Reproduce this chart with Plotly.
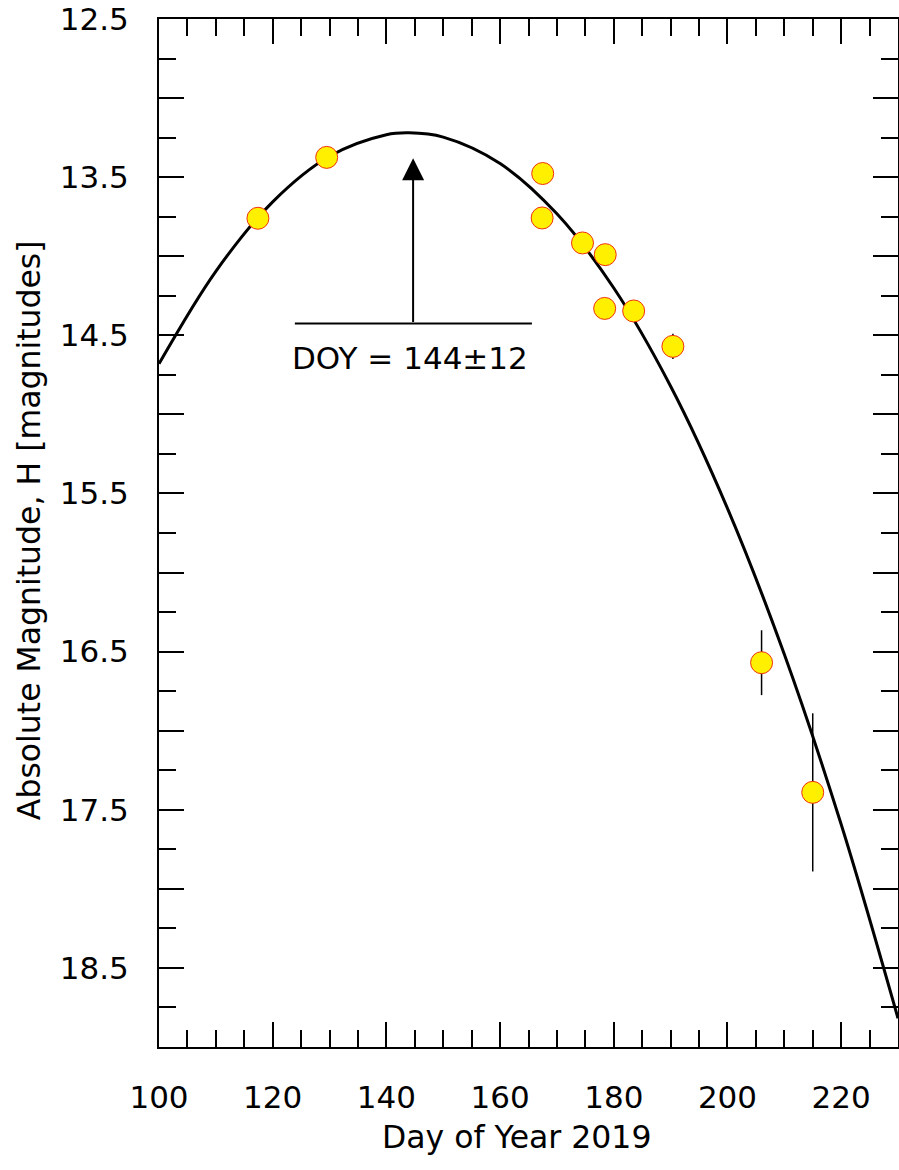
import plotly.graph_objects as go

# Observations: day of year, absolute magnitude H, 1-sigma error
doy = [117.4, 129.5, 167.5, 167.4, 174.5, 178.5, 178.4, 183.5, 190.4, 206.0, 215.0]
mag = [13.76, 13.375, 13.477, 13.758, 13.916, 13.99, 14.33, 14.346, 14.57, 16.57, 17.39]
err = [0.03, 0.03, 0.03, 0.03, 0.03, 0.03, 0.03, 0.03, 0.08, 0.205, 0.5]

# Fitted curve
curve_doy = [100, 110, 120, 130, 140, 144, 150, 160, 170, 180, 190, 200, 210, 220, 230]
curve_mag = [14.68, 14.095, 13.656, 13.368, 13.232, 13.22, 13.247, 13.414, 13.732,
             14.201, 14.822, 15.594, 16.517, 17.592, 18.819]

# Texts
peak_label = "DOY = 144±12"
x_title = "Day of Year 2019"
y_title = "Absolute Magnitude, H [magnitudes]"

x_ticks = [100, 120, 140, 160, 180, 200, 220]
y_tickvals = [12.5, 13.0, 13.5, 14.0, 14.5, 15.0, 15.5, 16.0, 16.5, 17.0, 17.5, 18.0, 18.5]
y_ticktext = ["12.5", "", "13.5", "", "14.5", "", "15.5", "", "16.5", "", "17.5", "", "18.5"]
y_minor = [12.75, 13.25, 13.75, 14.25, 14.75, 15.25, 15.75, 16.25, 16.75, 17.25, 17.75, 18.25, 18.75]

FONT = "DejaVu Sans"

fig = go.Figure()
fig.add_trace(go.Scatter(
    x=curve_doy, y=curve_mag, mode="lines", line=dict(color="black", width=3, shape="spline"),
    hoverinfo="skip", showlegend=False))
fig.add_trace(go.Scatter(
    x=doy, y=mag, mode="markers",
    error_y=dict(type="data", array=err, visible=True, color="black", thickness=1.5, width=0),
    marker=dict(size=22, color="#FFF000", line=dict(color="#F03010", width=1)),
    showlegend=False))

# Horizontal bar and arrow
fig.add_shape(type="line", x0=123.9, x1=165.6, y0=14.426, y1=14.426, xref="x", yref="y",
              line=dict(color="black", width=2))
fig.add_annotation(x=144.7, y=13.38, ax=144.7, ay=14.426, xref="x", yref="y", axref="x", ayref="y",
                   text="", showarrow=True, arrowhead=2, arrowwidth=2, arrowsize=2.2, arrowcolor="black")
fig.add_annotation(x=144.2, y=14.646, xref="x", yref="y", text=peak_label, showarrow=False,
                   font=dict(family=FONT, size=31, color="black"))

# Axis titles
fig.add_annotation(x=0.4838, y=-0.0879, xref="paper", yref="paper", text=x_title, showarrow=False,
                   xanchor="center", yanchor="middle",
                   font=dict(family=FONT, size=31.5, color="black"))
fig.add_annotation(x=-0.1759, y=0.5028, xref="paper", yref="paper", text=y_title, showarrow=False,
                   xanchor="center", yanchor="middle", textangle=-90,
                   font=dict(family=FONT, size=31.5, color="black"))

axis_common = dict(showline=True, linecolor="black", linewidth=2, mirror="allticks",
                   ticks="inside", tickcolor="black", tickwidth=2, ticklen=25,
                   showgrid=False, zeroline=False,
                   tickfont=dict(family=FONT, size=31, color="black"))

fig.update_xaxes(range=[100, 230], tickmode="array", tickvals=x_ticks,
                 minor=dict(tickmode="linear", tick0=100, dtick=5, ticks="inside", ticklen=17,
                            tickwidth=2, tickcolor="black", showgrid=False),
                 ticklabelstandoff=22,
                 **axis_common)
fig.update_yaxes(range=[19.0, 12.5], tickmode="array", tickvals=y_tickvals, ticktext=y_ticktext,
                 minor=dict(tickmode="array", tickvals=y_minor, ticks="inside", ticklen=17,
                            tickwidth=2, tickcolor="black", showgrid=False),
                 ticklabelstandoff=22,
                 **axis_common)

fig.update_layout(width=899, height=1170, margin=dict(l=159, r=1, t=19, b=123, autoexpand=False),
                  plot_bgcolor="white", paper_bgcolor="white",
                  font=dict(family=FONT, color="black"))

fig.write_html("out.html", config={"displayModeBar": False},
               post_script="document.body.style.margin='0';document.body.style.overflow='hidden';")
